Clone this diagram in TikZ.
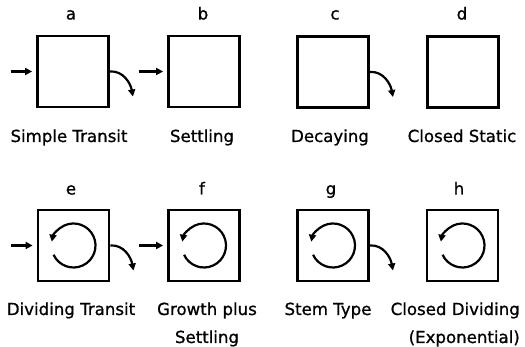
\documentclass[tikz,border=0pt]{standalone}
\usepackage{fontspec}
\setmainfont[FakeBold=0.9]{DejaVu Sans}
\usetikzlibrary{arrows.meta}

\begin{document}
\begin{tikzpicture}[x=1pt,y=1pt,
  every node/.style={font=\fontsize{16.6}{28}\selectfont, inner sep=0pt},
  compartment/.style={draw, line width=2.8pt, minimum size=71pt, inner sep=0pt},
  letter/.style={anchor=base},
  caption/.style={anchor=base, align=center},
  flow/.style={line width=2.2pt, -{Triangle[length=7pt,width=7pt]}},
  cycle/.style={line width=2.2pt, -{Triangle[length=7pt,width=7pt]}}
]
\useasboundingbox (0,0) rectangle (525,347);

% --- compartments ---
\node[compartment] (a) at (73,275.5) {};
\node[compartment] (b) at (204,275.5) {};
\node[compartment] (c) at (333,275) {};
\node[compartment] (d) at (463,275) {};
\node[compartment] (e) at (73.5,101.5) {};
\node[compartment] (f) at (204,101.5) {};
\node[compartment] (g) at (333,101.5) {};
\node[compartment] (h) at (462.5,101.5) {};

% --- letters ---
\node[letter] (la) at (71,327.5) {a};
\node[letter] (lb) at (203,327.5) {b};
\node[letter] (lc) at (335,327.5) {c};
\node[letter] (ld) at (462,327.5) {d};
\node[letter] (le) at (71,152.5) {e};
\node[letter] (lf) at (202,152.5) {f};
\node[letter] (lg) at (331,152.5) {g};
\node[letter] (lh) at (459,152.5) {h};

% --- captions (base anchor sits on the last line) ---
\node[caption] (ca) at (69,205) {Simple Transit};
\node[caption] (cb) at (202,205) {Settling};
\node[caption] (cc) at (330,205) {Decaying};
\node[caption] (cd) at (462,205) {Closed Static};
\node[caption] (ce) at (71,32) {Dividing Transit};
\node[caption] (cf) at (207,4) {Growth plus\\Settling};
\node[caption] (cg) at (328,32) {Stem Type};
\node[caption, anchor=base east, align=right] (ch) at (520,4) {Closed Dividing\\(Exponential)};

% --- inflow arrows ---
\coordinate (ina) at (11,275.5);
\coordinate (inb) at (139,275.5);
\coordinate (ine) at (11,101.5);
\coordinate (inf) at (139,101.5);
\draw[flow] (ina) -- ([xshift=-4pt]a.west);
\draw[flow] (inb) -- ([xshift=-4pt]b.west);
\draw[flow] (ine) -- ([xshift=-4pt]e.west);
\draw[flow] (inf) -- ([xshift=-4pt]f.west);

% --- outflow arrows ---
\foreach \n in {a,c,e,g}{
  \coordinate (out\n) at ([xshift=23pt,yshift=-25pt]\n.east);
  \draw[flow] (\n.east) to[out=5,in=100] (out\n);
}

% --- division cycles ---
\foreach \n in {e,f,g,h}{
  \draw[cycle] ([shift={(205:22pt)}]\n.center) arc[start angle=205, end angle=530, radius=22pt];
}
\end{tikzpicture}
\end{document}
